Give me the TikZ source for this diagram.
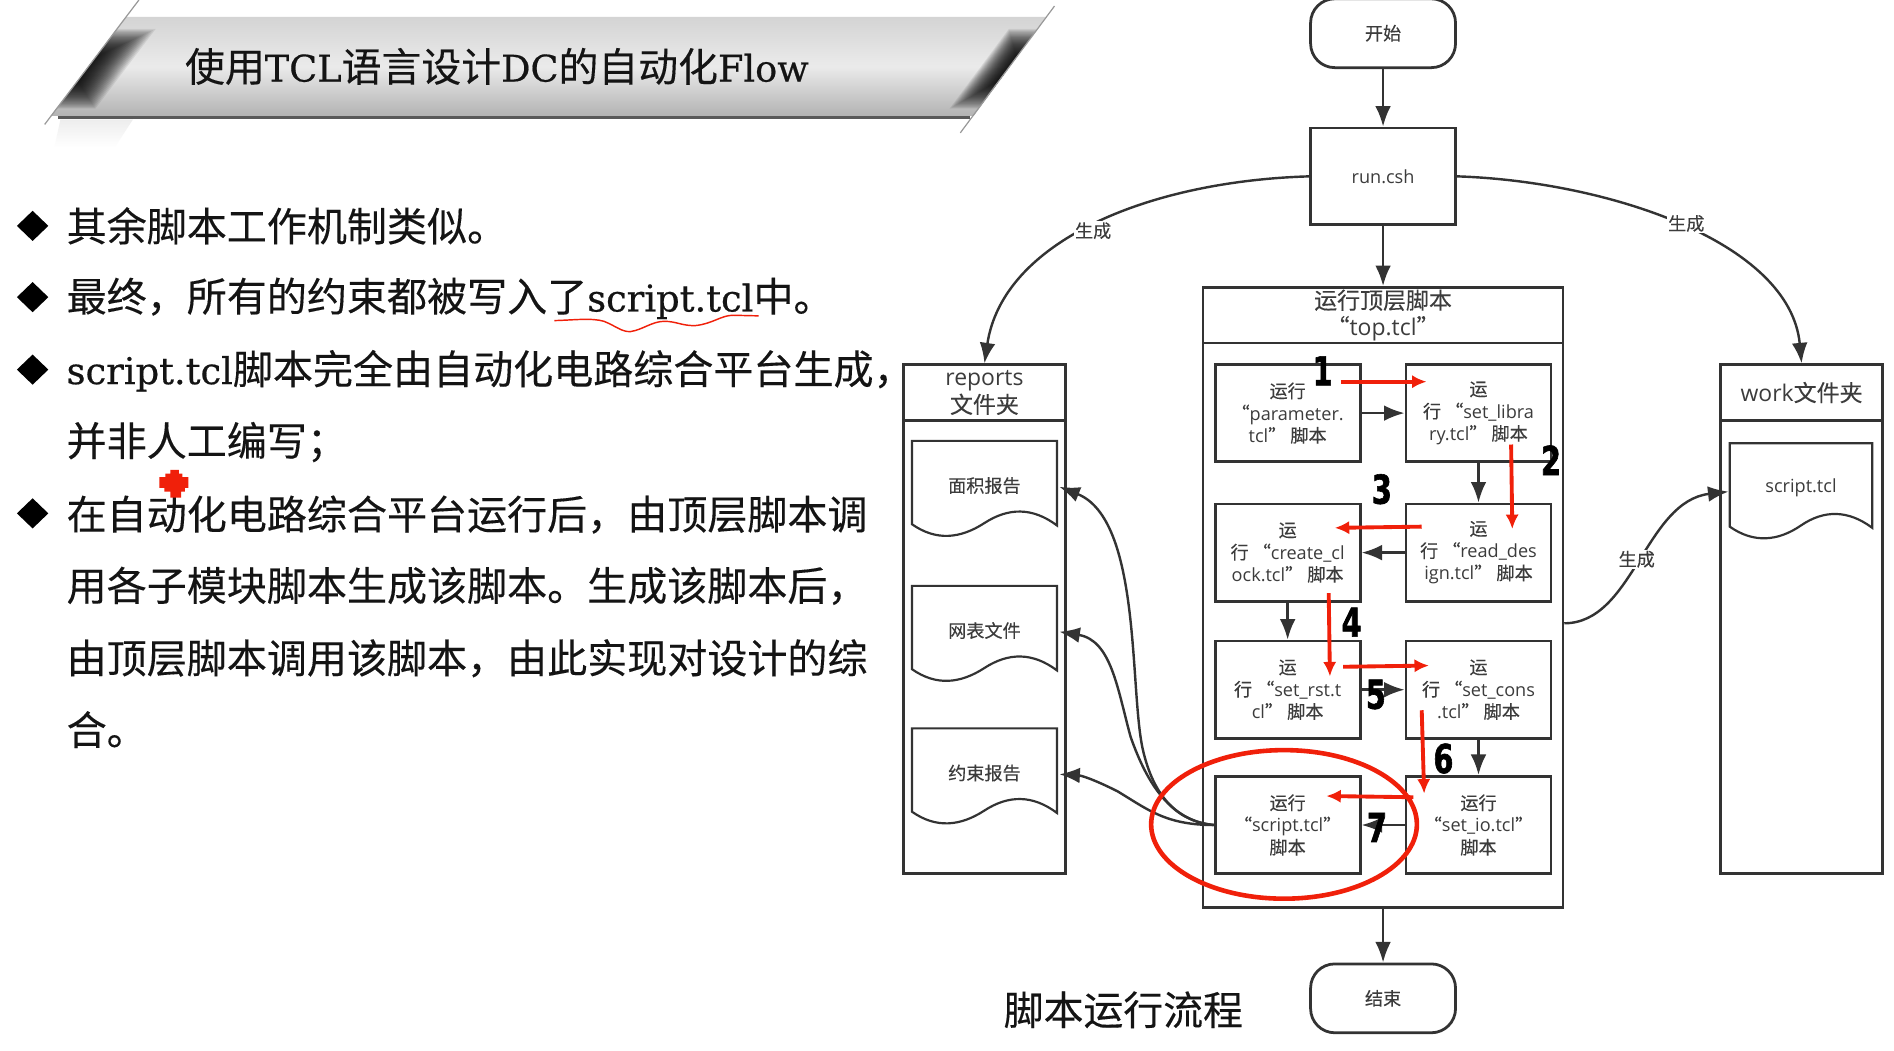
\documentclass[tikz,border=0pt]{standalone}
\usepackage{fontspec}
\usetikzlibrary{arrows.meta,shapes.geometric}
\setmainfont[Scale=0.92,FakeBold=0.5]{DejaVu Serif}
\newfontfamily\cj[FakeBold=0.25]{Noto Sans CJK SC}
\newfontfamily\dg{Open Sans}
\newfontfamily\dig[FakeStretch=0.72,BoldFeatures={FakeBold=1.5}]{DejaVu Sans}
\newcommand{\zh}[1]{{\cj #1}}
\definecolor{ink}{HTML}{333333}
\definecolor{txt}{HTML}{3C3C3C}
\definecolor{redm}{HTML}{F0200A}
\tikzset{
  line/.style={draw=ink,line width=2.3pt},
  tip/.style={-{Latex[length=17pt,width=13pt]},draw=ink,line width=2.2pt},
  curve/.style={-{Latex[length=17pt,width=13pt]},draw=ink,line width=2pt},
  redarrow/.style={-{Latex[length=12pt,width=11pt]},draw=redm,line width=3.2pt},
  boxn/.style={line,minimum width=120pt,minimum height=80.5pt,inner sep=0pt,align=center,text=txt,font=\dg\fontsize{15}{18.4}\selectfont},
  term/.style={line,rounded corners=20pt,minimum width=120pt,minimum height=57pt,inner sep=0pt,text=txt,font=\cj\fontsize{15}{18}\selectfont},
  head/.style={line,minimum width=134pt,minimum height=46pt,inner sep=0pt,align=center,text=txt,font=\dg\fontsize{19}{23}\selectfont},
  doctext/.style={inner sep=0pt,text=txt,font=\cj\fontsize{15}{18}\selectfont},
  gen/.style={fill=white,inner sep=1pt,text=txt,font=\cj\fontsize{15}{18}\selectfont},
  body/.style={anchor=west,inner sep=0pt,text=black!92,font=\cj\fontsize{33.15}{33}\selectfont},
  num/.style={inner sep=0pt,text=black,font=\dig\bfseries\fontsize{33}{33}\selectfont},
  bullet/.style={fill=black},
}
\begin{document}
\begin{tikzpicture}[x=1pt,y=-1pt]
\useasboundingbox (0,0) rectangle (1568,869.3);
\fill[white] (0,0) rectangle (1568,869.3);

% ---- title band
\shade[top color=black!7,bottom color=white] (50,99) -- (110,99) -- (95,122) -- (45,122) -- cycle;
\shade[top color=black!17,bottom color=black!30,middle color=black!8]
  (104,14) -- (866,14) -- (806,96) -- (42,96) -- cycle;
\begin{scope}
  \clip (104,14) -- (866,14) -- (806,96) -- (42,96) -- cycle;
  \foreach \i in {0,...,24}{
    \pgfmathsetmacro{\wid}{32-1.25*\i}
    \pgfmathsetmacro{\widr}{24-0.92*\i}
    \pgfmathsetmacro{\ya}{24+\i*0.9}
    \pgfmathsetmacro{\yb}{90-\i*0.9}
    \fill[black,opacity=0.075]
      ({115-.757*\ya},\ya) -- ({115-.757*\ya+\wid},\ya)
      -- ({115-.757*\yb+\wid},\yb) -- ({115-.757*\yb},\yb) -- cycle;
    \fill[black,opacity=0.075]
      ({877-.743*\ya},\ya) -- ({877-.743*\ya-\widr},\ya)
      -- ({877-.743*\yb-\widr},\yb) -- ({877-.743*\yb},\yb) -- cycle;
  }
\end{scope}
\draw[black!40,line width=1pt] (115,0) -- (37,103);
\draw[black!40,line width=1pt] (873,5) -- (795,110);
\draw[black!65,line width=2.5pt] (48,97) -- (803,97);
\node[anchor=west,inner sep=0pt,text=black!92,font=\fontsize{33}{33}\selectfont] (title) at (153,55)
  {\zh{使用}TCL\zh{语言设计}DC\zh{的自动化}Flow};

% ---- bullet text
\foreach \y in {187,246,306,425}
  \fill[bullet] (14,\y) -- (27,{\y-12.5}) -- (40,\y) -- (27,{\y+12.5}) -- cycle;
\node[body] (l1) at (55,187) {其余脚本工作机制类似。};
\node[body] (l2) at (55,247) {最终，所有的约束都被写入了{\rmfamily script.tcl}中。};
\node[body] (l3) at (55,307) {{\rmfamily script.tcl}脚本完全由自动化电路综合平台生成，};
\node[body] (l4) at (55,366) {并非人工编写；};
\node[body] (l5) at (55,426) {在自动化电路综合平台运行后，由顶层脚本调};
\node[body] (l6) at (55,485) {用各子模块脚本生成该脚本。生成该脚本后，};
\node[body] (l7) at (55,545) {由顶层脚本调用该脚本，由此实现对设计的综};
\node[body] (l8) at (55,604) {合。};
\draw[redm,line width=1.2pt] (459,265.4) .. controls (475,265) and (490,263) .. (500,266)
  .. controls (510,270) and (515,275) .. (522,274.5) .. controls (532,273) and (540,266) .. (550,266)
  .. controls (560,266) and (565,270) .. (576,269.5) .. controls (590,268) and (597,261) .. (607,261) -- (628,261.5);
\fill[redm] (141,389) -- (148,389) -- (148,392) -- (151,392) -- (151,395) -- (156,395) -- (156,404) -- (153,404) -- (153,407) -- (150,407) -- (150,412) -- (141,412) -- (141,407) -- (136,407) -- (136,404) -- (132,404) -- (132,395) -- (137,395) -- (137,392) -- (141,392) -- cycle;

% ---- caption
\node[inner sep=0pt,text=black!92,font=\cj\fontsize{33}{33}\selectfont] (cap) at (930,836) {脚本运行流程};

% ---- flow: start, run, end
\node[term] (start) at (1145,27.5) {开始};
\node[boxn,minimum height=80pt,font=\dg\fontsize{15}{18}\selectfont] (run) at (1145,146) {run.csh};
\node[term] (end) at (1145,826.5) {结束};

% ---- top panel
\node[line,minimum width=298pt,minimum height=46pt,inner sep=0pt,align=center,text=txt,font=\dg\fontsize{19}{22}\selectfont] (toph) at (1145,261)
  {\zh{运行顶层脚本}\\\zh{“}top.tcl\zh{”}};
\node[line,minimum width=298pt,minimum height=467pt] (topb) at (1145,517.5) {};

% ---- reports panel
\node[head] (reph) at (815,325) {reports\\\zh{文件夹}};
\node[line,minimum width=134pt,minimum height=375pt] (repb) at (815,535.5) {};
% ---- work panel
\node[head] (workh) at (1491.5,325) {work\zh{文件夹}};
\node[line,minimum width=134pt,minimum height=375pt] (workb) at (1491.5,535.5) {};

% ---- documents
\draw[line,line width=1.8pt] (755,365) -- (875,365) -- (875,435) .. controls (855,420) and (835,420) .. (815,433) .. controls (795,446) and (775,448) .. (755,434) -- cycle;
\draw[line,line width=1.8pt] (755,485) -- (875,485) -- (875,555) .. controls (855,540) and (835,540) .. (815,553) .. controls (795,566) and (775,568) .. (755,554) -- cycle;
\draw[line,line width=1.8pt] (755,603) -- (875,603) -- (875,673) .. controls (855,658) and (835,658) .. (815,671) .. controls (795,684) and (775,686) .. (755,672) -- cycle;
\draw[line,line width=1.8pt] (1432,367) -- (1550,367) -- (1550,437) .. controls (1530,422) and (1510,422) .. (1491,435) .. controls (1472,448) and (1452,450) .. (1432,436) -- cycle;
\node[doctext] (d1) at (815,402) {面积报告};
\node[doctext] (d2) at (815,522) {网表文件};
\node[doctext] (d3) at (815,640) {约束报告};
\node[doctext,font=\dg\fontsize{15}{18}\selectfont] (d4) at (1491,404) {script.tcl};
\coordinate (d1e) at (877,403);
\coordinate (d2e) at (877,523);
\coordinate (d3e) at (877,641);
\coordinate (d4w) at (1431,407);
\coordinate (toppt) at (1295,516);

% ---- script boxes
\node[boxn] (b1) at (1066,342) {\zh{运行}\\\zh{“}parameter.\\tcl\zh{” 脚本}};
\node[boxn] (b2) at (1224,342) {\zh{运}\\\zh{行 “}set\_libra\\ry.tcl\zh{” 脚本}};
\node[boxn] (b3) at (1224,457.5) {\zh{运}\\\zh{行 “}read\_des\\ign.tcl\zh{” 脚本}};
\node[boxn] (b4) at (1066,457.5) {\zh{运}\\\zh{行 “}create\_cl\\ock.tcl\zh{” 脚本}};
\node[boxn] (b5) at (1066,571) {\zh{运}\\\zh{行 “}set\_rst.t\\cl\zh{” 脚本}};
\node[boxn] (b6) at (1224,571) {\zh{运}\\\zh{行 “}set\_cons\\.tcl\zh{” 脚本}};
\node[boxn] (b7) at (1224,683) {\zh{运行}\\\zh{“}set\_io.tcl\zh{”}\\\zh{脚本}};
\node[boxn] (b8) at (1066,683) {\zh{运行}\\\zh{“}script.tcl\zh{”}\\\zh{脚本}};

% ---- connectors
\draw[tip] (start) -- (run);
\draw[tip] (run) -- (toph);
\draw[tip] (b1) -- (b2);
\draw[tip] (b2) -- (b3);
\draw[tip] (b3) -- (b4);
\draw[tip] (b4) -- (b5);
\draw[tip] (b5) -- (b6);
\draw[tip] (b6) -- (b7);
\draw[tip] (b7) -- (b8);
\draw[tip] (topb) -- (end);
\draw[curve] (run.west) .. controls (950,150) and (830,200) .. (reph.north);
\draw[curve] (run.east) .. controls (1330,150) and (1482,200) .. (workh.north);
\draw[curve] (toppt) .. controls (1352,516) and (1362,415) .. (d4w);
\draw[curve] (b8.west) .. controls (975,680) and (955,660) .. (946,620) .. controls (935,570) and (945,430) .. (d1e);
\draw[curve] (b8.west) .. controls (970,680) and (950,650) .. (936,610) .. controls (925,570) and (920,530) .. (d2e);
\draw[curve] (b8.west) .. controls (965,683) and (950,670) .. (925,655) .. controls (905,645) and (895,642) .. (d3e);
\node[gen] (g1) at (905,191) {生成};
\node[gen] (g2) at (1396,185) {生成};
\node[gen] (g3) at (1355,463) {生成};

% ---- red annotations
\coordinate (r1a) at (1110,316); \coordinate (r1b) at (1181,316);
\coordinate (r2a) at (1251,368); \coordinate (r2b) at (1252,438);
\coordinate (r3a) at (1177,436); \coordinate (r3b) at (1105,437);
\coordinate (r4a) at (1100,491); \coordinate (r4b) at (1101,560);
\coordinate (r5a) at (1112,552); \coordinate (r5b) at (1183,551);
\coordinate (r6a) at (1177,588); \coordinate (r6b) at (1179,657);
\coordinate (r7a) at (1170,660); \coordinate (r7b) at (1098,659);
\foreach \n in {1,...,7} \draw[redarrow] (r\n a) -- (r\n b);
\draw[redm,line width=3.8pt] (1063,682.5) ellipse [x radius=110,y radius=61.5];
\node[num] (n1) at (1095,307) {1};
\node[num] (n2) at (1284,381) {2};
\node[num] (n3) at (1144,405) {3};
\node[num] (n4) at (1119,515) {4};
\node[num] (n5) at (1139,575) {5};
\node[num] (n6) at (1195,628) {6};
\node[num] (n7) at (1140,685) {7};
\end{tikzpicture}
\end{document}
